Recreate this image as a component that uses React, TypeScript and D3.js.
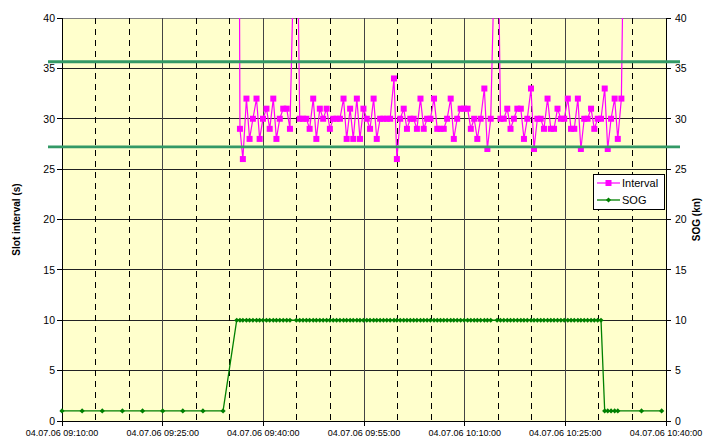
import React from 'react';
import * as d3 from 'd3';

// ---------- DATA ----------
const startTime = new Date(2006, 6, 4, 9, 10, 0); // first report
const axisStart = new Date(2006, 6, 4, 9, 10, 0);
const axisEnd = new Date(2006, 6, 4, 10, 40, 0);
const majorStepMin = 15;
const minorStepMin = 5;

// Slot interval (s) = time between successive reports (one value per report after the first)
const intervals: number[] = [
  180, 180, 180, 180, 180, 180, 180, 180, 122,
  29, 26, 32, 28, 30, 32, 28, 30, 31, 29, 32, 28, 30, 31, 31, 29,
  57,
  30, 30, 30, 29, 32, 28, 31, 30, 31, 29, 30, 30, 30, 32, 28, 31,
  28, 32, 28, 31, 30, 29, 32, 28, 30, 30, 30, 30, 34, 26, 30, 31,
  29, 30, 30, 29, 32, 29, 30, 30, 32, 29, 29, 29, 30, 32, 28, 30,
  31, 31, 31, 29, 30, 28, 30, 33, 27, 30,
  57,
  30, 30, 31, 29, 30, 31, 31, 28, 30, 33, 27, 30, 30, 29, 32, 29,
  29, 31, 30, 30, 32, 29, 29, 32, 27, 30, 30, 31, 29, 30, 30, 33,
  27, 30, 32, 28, 32,
  180, 180,
];

// SOG (kn) for every report (null = no value)
const sog: (number | null)[] = [
  1, 1, 1, 1, 1, 1, 1, 1, 1,
  10, 10, 10, 10, 10, 10, 10, 10, 10, 10, 10, 10, 10, 10, 10, 10, 10, 10,
  10, 10, 10, 10, 10, 10, 10, 10, 10, 10, 10, 10, 10, 10, 10, 10, 10, 10,
  10, 10, 10, 10, 10, 10, 10, 10, 10, 10, 10, 10, 10, 10, 10, 10, 10, 10,
  10, 10, 10, 10, 10, 10, 10, 10, 10, 10, 10, 10, 10, 10, 10, 10, 10, 10,
  10, 10, 10, 10, 10, 10, 10, 10, 10, 10, 10, 10, 10, 10, 10, 10, 10, 10,
  10, 10, 10, 10, 10, 10, 10, 10, 10, 10, 10, 10, 10, 10, 10, 10, 10, 10,
  1, 1, 1, 1, 1, null, 1, 1,
];

const yTicks = [0, 5, 10, 15, 20, 25, 30, 35, 40];
const referenceLevels = [35.66, 27.2];
const seriesNames = ['Interval', 'SOG'];
const leftTitle = 'Slot interval (s)';
const rightTitle = 'SOG (kn)';

type Pt = { t: Date; v: number };

export default function App() {
  const W = 718, H = 438;
  const L = 62, R = 666, T = 18, B = 421;
  const font = "Arial, 'Liberation Sans', sans-serif";

  const x = d3.scaleTime().domain([axisStart, axisEnd]).range([L, R]);
  const y = d3.scaleLinear().domain([0, 40]).range([B, T]);

  const offsets = [0, ...Array.from(d3.cumsum(intervals))];
  const times = offsets.map((s) => new Date(startTime.getTime() + s * 1000));
  const intervalPts: Pt[] = intervals.map((v, i) => ({ t: times[i + 1], v }));
  const sogPts: Pt[] = sog
    .map((v, i) => ({ t: times[i], v }))
    .filter((d) => d.v != null) as Pt[];

  const line = d3
    .line<Pt>()
    .x((d) => x(d.t))
    .y((d) => y(d.v));

  const endPlus = new Date(+axisEnd + 1);
  const majorTicks = d3.timeMinute.range(axisStart, endPlus, majorStepMin);
  const minorTicks = d3.timeMinute
    .range(axisStart, endPlus, minorStepMin)
    .filter((t) => !majorTicks.some((m) => +m === +t));
  const fmt = d3.timeFormat('%d.%m.%y %H:%M:%S');

  const magenta = '#ff00ff';
  const green = '#008000';
  const refGreen = '#339966';

  const diamond = (cx: number, cy: number, s: number) =>
    `M${cx},${cy - s}L${cx + s},${cy}L${cx},${cy + s}L${cx - s},${cy}Z`;

  return (
    <svg
      width={W}
      height={H}
      style={{ position: 'absolute', left: 0, top: 0, background: '#fff' }}
      fontFamily={font}
    >
      <defs>
        <clipPath id="plotClip">
          <rect x={L} y={T} width={R - L} height={B - T} />
        </clipPath>
        <clipPath id="markClip">
          <rect x={L - 5} y={T - 4} width={R - L + 10} height={B - T + 8} />
        </clipPath>
      </defs>

      {/* plot background */}
      <rect x={L} y={T} width={R - L} height={B - T} fill="#ffffcc" />

      {/* horizontal gridlines */}
      {yTicks
        .filter((v) => v > 0)
        .map((v) => (
          <line
            key={'h' + v}
            x1={L}
            x2={R}
            y1={y(v)}
            y2={y(v)}
            stroke={v === 40 ? '#808080' : '#222'}
            strokeWidth={1}
            shapeRendering="crispEdges"
          />
        ))}

      {/* minor vertical gridlines (dashed) */}
      {minorTicks.map((t) => (
        <line
          key={'mv' + +t}
          x1={x(t)}
          x2={x(t)}
          y1={T}
          y2={B}
          stroke="#000"
          strokeWidth={1}
          strokeDasharray="6,5"
          shapeRendering="crispEdges"
        />
      ))}
      {/* major vertical gridlines */}
      {majorTicks
        .filter((t) => +t !== +axisStart && +t !== +axisEnd)
        .map((t) => (
          <line
            key={'Mv' + +t}
            x1={x(t)}
            x2={x(t)}
            y1={T}
            y2={B}
            stroke="#444"
            strokeWidth={1}
            shapeRendering="crispEdges"
          />
        ))}

      {/* axes */}
      <line x1={L} x2={L} y1={T} y2={B} stroke="#000" shapeRendering="crispEdges" />
      <line x1={R} x2={R} y1={T} y2={B} stroke="#000" shapeRendering="crispEdges" />
      <line x1={L} x2={R} y1={B} y2={B} stroke="#000" shapeRendering="crispEdges" />

      {/* y ticks */}
      {yTicks.map((v) => (
        <g key={'ly' + v}>
          <line x1={L - 5} x2={L} y1={y(v)} y2={y(v)} stroke="#000" shapeRendering="crispEdges" />
          <text x={L - 7} y={y(v)} dy="0.36em" textAnchor="end" fontSize={10.5} fill="#000">
            {v}
          </text>
          <line x1={R} x2={R + 5} y1={y(v)} y2={y(v)} stroke="#000" shapeRendering="crispEdges" />
          <text x={R + 9} y={y(v)} dy="0.36em" textAnchor="start" fontSize={10.5} fill="#000">
            {v}
          </text>
        </g>
      ))}

      {/* x ticks */}
      {majorTicks.map((t) => (
        <g key={'xt' + +t}>
          <line x1={x(t)} x2={x(t)} y1={B} y2={B + 5} stroke="#000" shapeRendering="crispEdges" />
          <text x={x(t)} y={436} textAnchor="middle" fontSize={9} fill="#000">
            {fmt(t)}
          </text>
        </g>
      ))}

      {/* axis titles */}
      <text
        transform={`translate(20,${(T + B) / 2}) rotate(-90)`}
        textAnchor="middle"
        fontSize={10}
        fontWeight="bold"
        fill="#000"
      >
        {leftTitle}
      </text>
      <text
        transform={`translate(700,${(T + B) / 2}) rotate(-90)`}
        textAnchor="middle"
        fontSize={10}
        fontWeight="bold"
        fill="#000"
      >
        {rightTitle}
      </text>

      {/* series */}
      <g clipPath="url(#plotClip)">
        <path d={line(intervalPts) || ''} fill="none" stroke={magenta} strokeWidth={1.2} />
        <path d={line(sogPts) || ''} fill="none" stroke={green} strokeWidth={1.3} />
      </g>
      <g clipPath="url(#markClip)">
        {intervalPts.map((d, i) => (
          <rect
            key={'im' + i}
            x={x(d.t) - 3}
            y={y(d.v) - 3}
            width={6}
            height={6}
            fill={magenta}
          />
        ))}
        {sogPts.map((d, i) => (
          <path key={'sm' + i} d={diamond(x(d.t), y(d.v), 2.6)} fill={green} />
        ))}
      </g>

      {/* reference levels */}
      {referenceLevels.map((v) => (
        <line
          key={'ref' + v}
          x1={48}
          x2={680}
          y1={y(v)}
          y2={y(v)}
          stroke={refGreen}
          strokeWidth={2.8}
        />
      ))}

      {/* legend */}
      <g>
        <rect x={593.5} y={174.5} width={71} height={35} fill="#fff" stroke="#000" strokeWidth={1} />
        <line x1={597} x2={620} y1={183} y2={183} stroke={magenta} strokeWidth={1.2} />
        <rect x={605.5} y={180} width={6} height={6} fill={magenta} />
        <text x={622} y={183} dy="0.36em" fontSize={11} fill="#000">
          {seriesNames[0]}
        </text>
        <line x1={597} x2={620} y1={200} y2={200} stroke={green} strokeWidth={1.3} />
        <path d={diamond(608.5, 200, 2.6)} fill={green} />
        <text x={622} y={200} dy="0.36em" fontSize={11} fill="#000">
          {seriesNames[1]}
        </text>
      </g>
    </svg>
  );
}
